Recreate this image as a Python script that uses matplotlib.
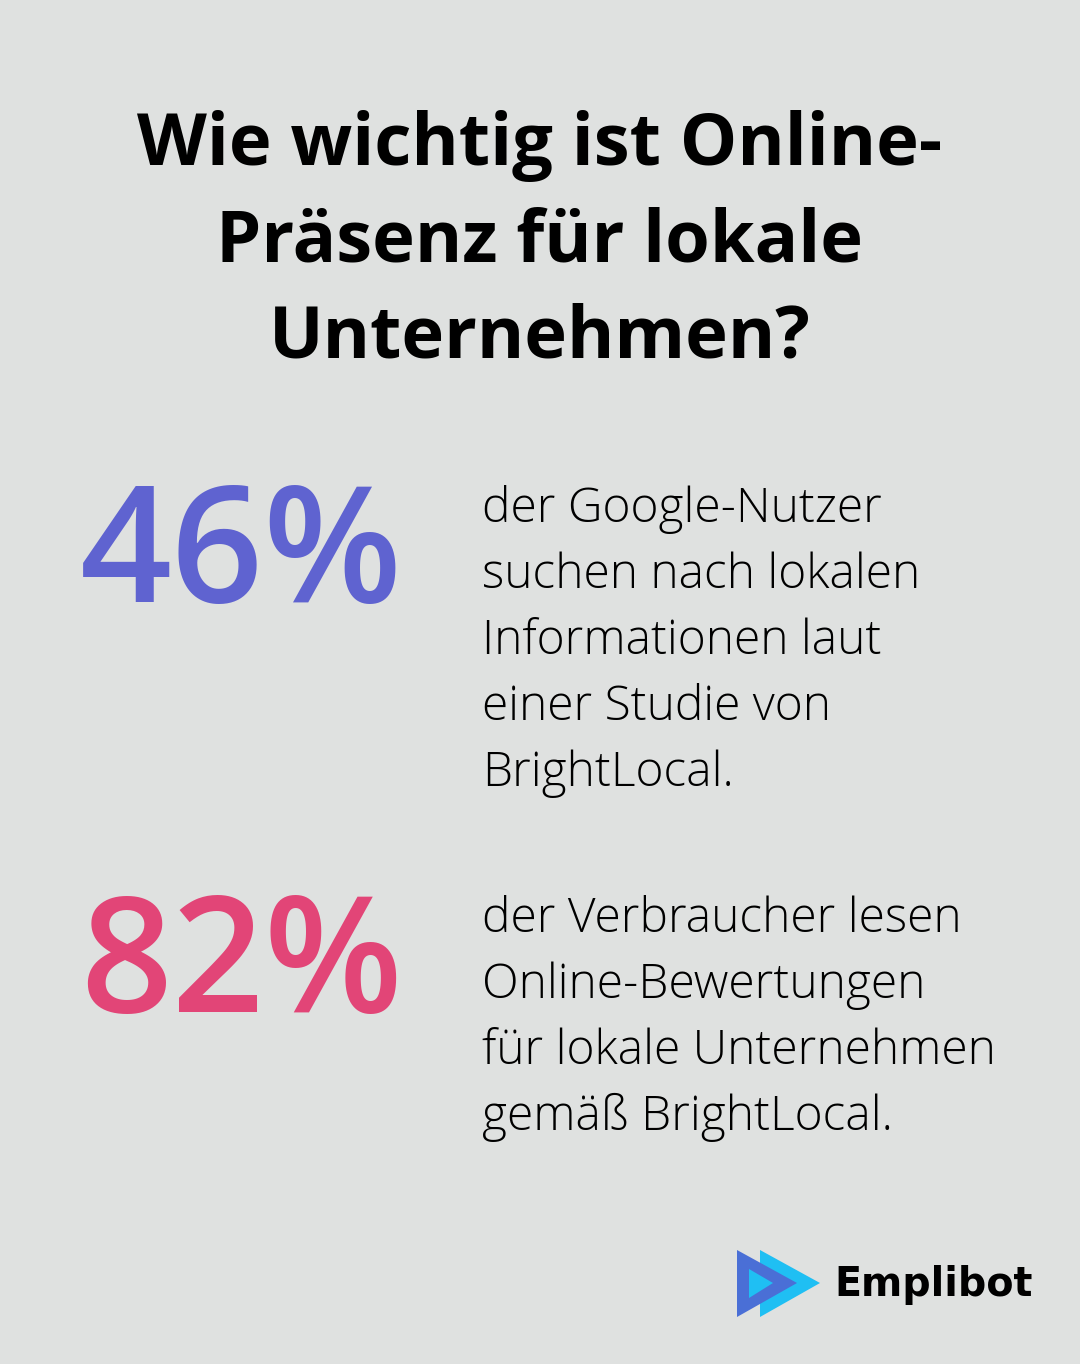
import matplotlib.pyplot as plt
from matplotlib.patches import Polygon

W, H = 1080, 1364
BG = '#dfe1e0'

title_lines = ['Wie wichtig ist Online-', 'Präsenz für lokale', 'Unternehmen?']

stat_values = ['46%', '82%']
stat_colors = ['#5f63d0', '#e24577']
stat_texts = [
    ['der Google-Nutzer', 'suchen nach lokalen', 'Informationen laut',
     'einer Studie von', 'BrightLocal.'],
    ['der Verbraucher lesen', 'Online-Bewertungen',
     'für lokale Unternehmen', 'gemäß BrightLocal.'],
]

brand = 'Emplibot'

fig = plt.figure(figsize=(W / 100, H / 100), dpi=100)
fig.patch.set_facecolor(BG)
ax = fig.add_axes([0, 0, 1, 1])
ax.set_xlim(0, W)
ax.set_ylim(H, 0)
ax.axis('off')

# title
for i, line in enumerate(title_lines):
    ax.text(540, 165 + i * 96.5, line, ha='center', va='baseline',
            fontsize=52, fontweight='bold', family='Open Sans', color='black')

# stats
num_base = [602, 1012]
txt_base = [522, 932]
for k, val in enumerate(stat_values):
    ax.text(80, num_base[k], val, ha='left', va='baseline', fontsize=116,
            fontweight='semibold', family='Open Sans', color=stat_colors[k])
    for j, line in enumerate(stat_texts[k]):
        ax.text(482, txt_base[k] + j * 66, line, ha='left', va='baseline',
                fontsize=34.5, fontweight='light', family='Open Sans', color='black')

# logo
ax.add_patch(Polygon([(760, 1250), (820, 1283), (760, 1317)], closed=True,
                     facecolor='#1fbff3', edgecolor='none'))
ax.add_patch(Polygon([(737, 1250), (797, 1283), (737, 1317)], closed=True,
                     facecolor='#4a6fd6', edgecolor='none'))
ax.add_patch(Polygon([(749, 1269), (773, 1283), (749, 1298)], closed=True,
                     facecolor='#1fbff3', edgecolor='none'))
ax.text(834, 1296, brand, ha='left', va='baseline', fontsize=28.5,
        fontweight='bold', family='DejaVu Sans', color='black')

fig.savefig('out.png', dpi=100, facecolor=BG)
